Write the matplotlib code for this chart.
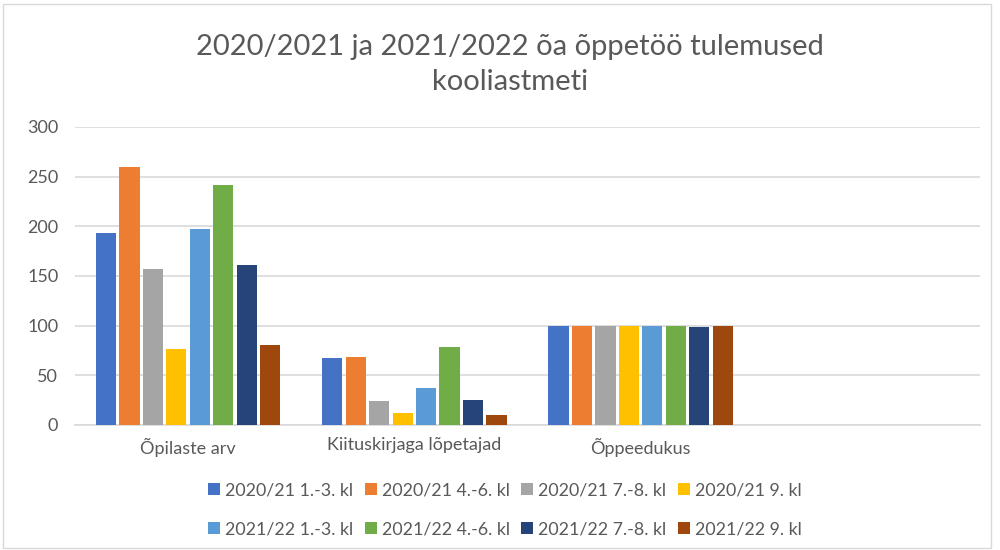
import numpy as np
import matplotlib
matplotlib.use("Agg")
import matplotlib.pyplot as plt
from matplotlib.patches import Rectangle

plt.rcParams['font.family'] = ['Lato', 'DejaVu Sans']

categories = ["Õpilaste arv", "Kiituskirjaga lõpetajad", "Õppeedukus", ""]
series_names = ["2020/21 1.-3. kl", "2020/21 4.-6. kl", "2020/21 7.-8. kl", "2020/21 9. kl",
                "2021/22 1.-3. kl", "2021/22 4.-6. kl", "2021/22 7.-8. kl", "2021/22 9. kl"]
colors = ["#4472C4", "#ED7D31", "#A5A5A5", "#FFC000",
          "#5B9BD5", "#70AD47", "#264478", "#9E480E"]

# values per series: [Õpilaste arv, Kiituskirjaga lõpetajad, Õppeedukus]
v_2021_13 = [193, 67, 100]
v_2021_46 = [260, 68, 100]
v_2021_78 = [157, 24, 100]
v_2021_9 = [76, 12, 100]
v_2122_13 = [197, 37, 100]
v_2122_46 = [242, 79, 100]
v_2122_78 = [161, 25, 99]
v_2122_9 = [81, 10, 100]
values = [v_2021_13, v_2021_46, v_2021_78, v_2021_9,
          v_2122_13, v_2122_46, v_2122_78, v_2122_9]

text_color = "#595959"

fig = plt.figure(figsize=(10, 5.5), dpi=100)
ax = fig.add_axes([0.075, 0.2273, 0.905, 0.5418])

n = len(values)
group_w = 0.83
bw = group_w / n
x = np.arange(3)
handles = []
for i, (name, vals, c) in enumerate(zip(series_names, values, colors)):
    pos = x - group_w / 2 + bw * (i + 0.5)
    b = ax.bar(pos, vals, width=bw * 0.86, color=c, label=name, zorder=3)
    handles.append(b)

ax.set_xlim(-0.5, 3.5)
ax.set_ylim(0, 300)
ax.set_yticks(range(0, 301, 50))
ax.set_xticks(range(4))
ax.set_xticklabels(categories)
ax.grid(axis='y', color='#D9D9D9', linewidth=1.2, zorder=0)
for s in ['top', 'right', 'left']:
    ax.spines[s].set_visible(False)
ax.spines['bottom'].set_color('#D9D9D9')
ax.spines['bottom'].set_linewidth(1.2)
ax.tick_params(axis='both', length=0, labelsize=13, colors=text_color)
ax.tick_params(axis='y', pad=12)
ax.tick_params(axis='x', pad=9)

fig.text(0.51, 0.883, "2020/2021 ja 2021/2022 õa õppetöö tulemused\nkooliastmeti",
         ha='center', va='center', fontsize=21, color=text_color, linespacing=1.45)

# row-major order for a 2x4 legend
order = [0, 4, 1, 5, 2, 6, 3, 7]
leg = fig.legend([handles[i] for i in order], [series_names[i] for i in order],
                 loc='center', bbox_to_anchor=(0.505, 0.073), ncol=4, frameon=False,
                 fontsize=12.8, handlelength=0.65, handleheight=0.65, handletextpad=0.3,
                 columnspacing=0.65, labelspacing=1.3)
for t in leg.get_texts():
    t.set_color(text_color)

fig.patches.append(Rectangle((0.003, 0.003), 0.988, 0.99, transform=fig.transFigure,
                             fill=False, edgecolor='#D9D9D9', linewidth=1))

fig.savefig("out.png", dpi=100)
